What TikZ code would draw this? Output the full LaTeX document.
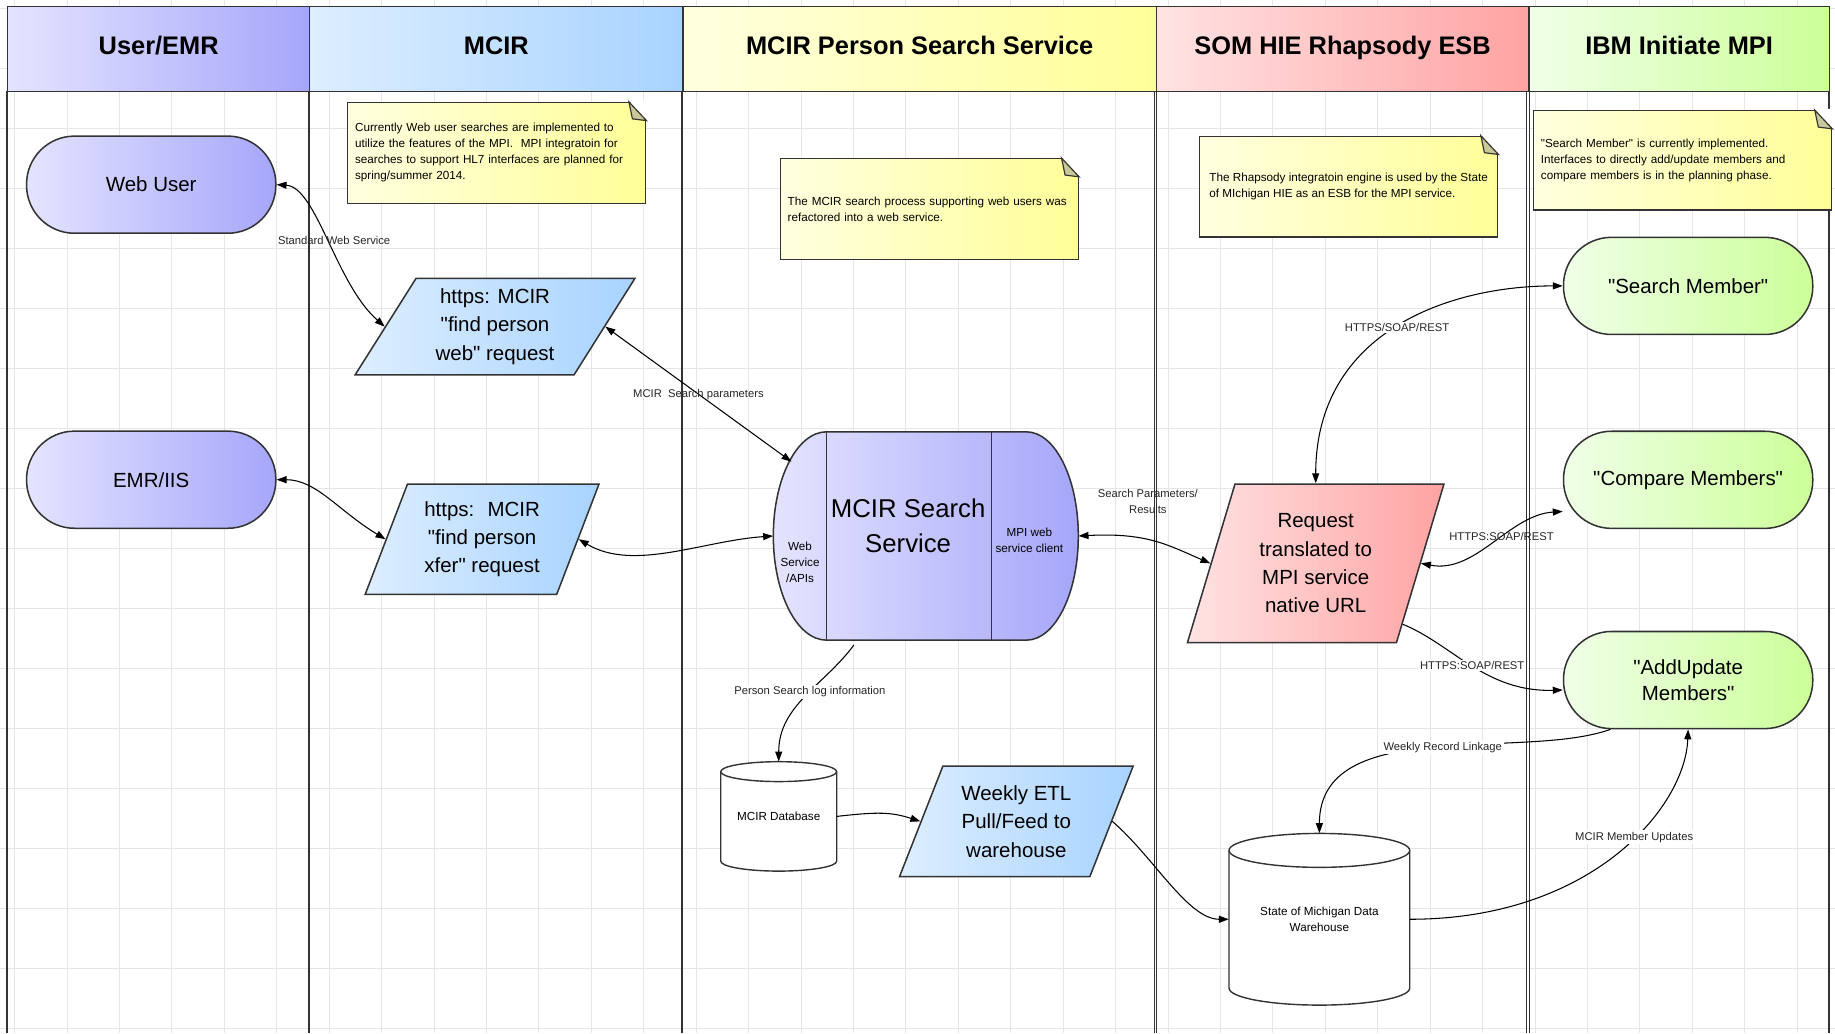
\documentclass[tikz,border=0pt]{standalone}
\usepackage{fontspec}
\setmainfont{Liberation Sans}[Ligatures=TeXOff]
\usetikzlibrary{shapes,positioning,fit,calc,arrows.meta}

\definecolor{purpleL}{HTML}{E4E4FF}
\definecolor{purpleR}{HTML}{A6A6FA}
\definecolor{blueL}{HTML}{DDEEFF}
\definecolor{blueR}{HTML}{A8D3FF}
\definecolor{yellowL}{HTML}{FFFFE0}
\definecolor{yellowR}{HTML}{FFFF99}
\definecolor{pinkL}{HTML}{FFE3E3}
\definecolor{pinkR}{HTML}{FFA3A3}
\definecolor{greenL}{HTML}{F0FFE8}
\definecolor{greenR}{HTML}{CCFF99}
\definecolor{foldcol}{HTML}{C9C89A}
\definecolor{edgecol}{HTML}{333333}
\definecolor{gridcol}{HTML}{E6E6E6}

\tikzset{
  hdr/.style={draw=edgecol, line width=1.2pt, anchor=north west, minimum height=72.7pt, inner sep=0pt,
    text height=16pt, text depth=7.4pt, font=\fontsize{21.7}{26}\selectfont\bfseries},
  pill/.style={draw=edgecol, line width=1.3pt, rounded corners=41pt, minimum width=213pt, minimum height=83pt,
    align=center, inner sep=2pt, font=\fontsize{17.5}{22}\selectfont},
  para/.style={trapezium, trapezium stretches, draw=edgecol, line width=1.3pt, align=center, inner sep=2pt,
    font=\fontsize{17.5}{24.2}\selectfont},
  memo/.style={draw=edgecol, line width=1pt, left color=yellowL, right color=yellowR, minimum width=255pt,
    minimum height=86pt, inner xsep=4pt, align=left, font=\fontsize{10}{13.6}\selectfont},
  memotext/.style={text width=242pt, inner xsep=6.5pt},
  drum/.style={inner sep=0pt, align=center, font=\fontsize{10}{13.6}\selectfont},
  subtext/.style={align=center, inner sep=1pt, font=\fontsize{10}{13.6}\selectfont},
  link/.style={draw=black, line width=0.9pt, {Triangle[length=8.5pt,width=6pt]}-{Triangle[length=8.5pt,width=6pt]}},
  flow/.style={draw=black, line width=0.9pt, -{Triangle[length=8.5pt,width=6pt]}},
  elabel/.style={font=\fontsize{9.6}{13.4}\selectfont, inner sep=1.5pt, align=center, text=black!85},
}

% cylinder outline: centre, half width, half height, ellipse radius
\newcommand\drawdrum[4]{%
  \draw[edgecol, line width=1.2pt, fill=white] ($(#1)+(-#2,#3-#4)$) -- ($(#1)+(-#2,-#3+#4)$)
    arc[start angle=180, end angle=360, x radius=#2, y radius=#4] -- ($(#1)+(#2,#3-#4)$)
    arc[start angle=0, end angle=180, x radius=#2, y radius=#4] -- cycle;
  \draw[edgecol, line width=1.2pt] ($(#1)+(-#2,#3-#4)$) arc[start angle=180, end angle=360, x radius=#2, y radius=#4];}

% folded corner of a note
\newcommand\foldcorner[1]{%
  \fill[white] ([shift={(-15,1)}]#1.north east) -- ([shift={(1.2,1)}]#1.north east) -- ([shift={(1.2,-16.5)}]#1.north east) -- cycle;
  \draw[edgecol, line width=1pt, fill=foldcol] ([xshift=-15]#1.north east) -- ([yshift=-16]#1.north east)
    -- ([shift={(-12,-14.5)}]#1.north east) -- cycle;}

\begin{document}
\begin{tikzpicture}[x=1pt,y=1pt]
  \useasboundingbox (0,0) rectangle (1568,-882.7);

  % background grid
  \foreach \gx in {0,...,34}
    \draw[gridcol, line width=0.8pt] ({12.5+44.8*\gx},0) -- ({12.5+44.8*\gx},-882.7);
  \foreach \gy in {0,...,17}
    \draw[gridcol, line width=0.8pt] (0,{-7-51.3*\gy}) -- (1568,{-7-51.3*\gy});

  % swim lanes
  \foreach \lx in {6,264,583,1562.6}
    \draw[edgecol, line width=1.6pt] (\lx,-77.8) -- (\lx,-882.7);
  \foreach \lx in {987.5,1305.8}
    \draw[edgecol, line width=0.8pt, double, double distance=1.4pt] (\lx,-77.8) -- (\lx,-882.7);

  \node[hdr, minimum width=258pt, left color=purpleL, right color=purpleR] (hUser) at (6,-5.1) {User/EMR};
  \node[hdr, minimum width=319pt, left color=blueL, right color=blueR] (hMcir) at (264,-5.1) {MCIR};
  \node[hdr, minimum width=404.5pt, left color=yellowL, right color=yellowR] (hSearch) at (583,-5.1) {MCIR Person Search Service};
  \node[hdr, minimum width=318.3pt, left color=pinkL, right color=pinkR] (hEsb) at (987.5,-5.1) {SOM HIE Rhapsody ESB};
  \node[hdr, minimum width=256.8pt, left color=greenL, right color=greenR] (hMpi) at (1305.8,-5.1) {IBM Initiate MPI};

  % notes
  \node[memo, memotext] (noteMcir) at (424.4,-130.55) {Currently Web user searches are implemented to\\
    utilize the features of the MPI.\ \ MPI integratoin for\\
    searches to support HL7 interfaces are planned for\\
    spring/summer 2014.};
  \node[memo, memotext] (noteSearch) at (794.1,-178.6) {The MCIR search process supporting web users was\\
    refactored into a web service.};
  \node[memo] (noteEsb) at (1152.4,-159.5) {The Rhapsody integratoin engine is used by the State\\
    of MIchigan HIE as an ESB for the MPI service.};
  \node[memo, memotext, minimum height=84.8pt] (noteMpi) at (1437.7,-137) {"Search Member" is currently implemented.\\
    Interfaces to directly add/update members and\\
    compare members is in the planning phase.};
  \foldcorner{noteMcir}
  \foldcorner{noteSearch}
  \foldcorner{noteEsb}
  \foldcorner{noteMpi}

  % user / EMR
  \node[pill, left color=purpleL, right color=purpleR] (web) at (129.2,-157.8) {Web User};
  \node[pill, left color=purpleL, right color=purpleR] (emr) at (129.2,-409.9) {EMR/IIS};

  % MCIR requests
  \node[para, left color=blueL, right color=blueR, trapezium left angle=59.3, trapezium right angle=120.7,
    minimum width=239.3pt, minimum height=82.6pt] (fpw) at (423,-279.1) {https: MCIR\\"find person\\web" request};
  \node[para, left color=blueL, right color=blueR, trapezium left angle=67, trapezium right angle=113,
    minimum width=200.1pt, minimum height=94.3pt] (xfr) at (411.95,-460.75) {https: \ MCIR\\"find person\\xfer" request};

  % search service
  \path[draw=edgecol, line width=1.3pt, left color=purpleL, right color=purpleR] (706.2,-369) -- (877,-369)
    arc[start angle=90, end angle=-90, x radius=44.4, y radius=89] -- (706.2,-547)
    arc[start angle=270, end angle=90, x radius=45.4, y radius=89] -- cycle;
  \draw[edgecol, line width=1.2pt] (706.4,-369) -- (706.4,-547);
  \draw[edgecol, line width=1.2pt] (847.4,-369) -- (847.4,-547);
  \node[minimum width=260.6pt, minimum height=178pt, inner sep=0pt] (svc) at (791.1,-458) {};
  \node[align=center, font=\fontsize{22}{30}\selectfont] (svcName) at (776,-449.5) {MCIR Search\\Service};
  \node[subtext] (svcApi) at (683.6,-480.7) {Web\\Service\\/APIs};
  \node[subtext] (svcClient) at (879.6,-462) {MPI web\\service client};
  \coordinate (svcIn) at ([shift={(15.7,63.5)}]svc.west);
  \coordinate (svcLog) at ([shift={(-61.5,-4)}]svc.south);

  % database and ETL
  \coordinate (dbC) at (665.4,-697.6);
  \drawdrum{dbC}{49.55}{46.75}{8.5}
  \node[drum, minimum width=99.1pt, minimum height=93.5pt] (db) at (dbC) {MCIR Database};
  \node[para, left color=blueL, right color=blueR, trapezium left angle=66.1, trapezium right angle=113.9,
    minimum width=199.9pt, minimum height=94.5pt] (etl) at (868.45,-701.85) {Weekly ETL\\Pull/Feed to\\warehouse};

  % ESB
  \node[para, left color=pinkL, right color=pinkR, trapezium left angle=71.6, trapezium right angle=108.4,
    minimum width=219.3pt, minimum height=135.6pt] (req) at (1124.25,-481.4) {Request\\translated to\\MPI service\\native URL};
  \coordinate (dwC) at (1127.4,-785.5);
  \drawdrum{dwC}{77.2}{73.35}{14.5}
  \node[drum, minimum width=154.4pt, minimum height=146.7pt] (dw) at (dwC) {State of Michigan Data\\Warehouse};

  % MPI
  \node[pill, left color=greenL, right color=greenR] (sm) at (1442.5,-244.3) {"Search Member"};
  \node[pill, left color=greenL, right color=greenR] (cm) at (1442.5,-410) {"Compare Members"};
  \node[pill, left color=greenL, right color=greenR] (au) at (1442.5,-581.1) {"AddUpdate\\Members"};

  % connectors
  \draw[link] (web.east) .. controls +(34,-2) and +(-42,37) .. (fpw.left side)
    node[elabel, pos=0.5, xshift=6] {Standard Web Service};
  \draw[link] (fpw.right side) -- (svcIn) node[elabel, pos=0.5] {MCIR \ Search parameters};
  \draw[link] (emr.east) .. controls +(34,0) and +(-40,24) .. (xfr.left side);
  \draw[link] (xfr.right side) .. controls +(47,-28) and +(-60,-4) .. (svc.west);
  \draw[link] (svc.east) .. controls +(58,3) and +(-37,16) .. (req.left side)
    node[elabel, pos=0.45, yshift=33] {Search Parameters/\\Results};
  \draw[link] (req.north) .. controls +(0,130) and +(-96,0) .. (sm.west)
    node[elabel, fill=white, pos=0.5] {HTTPS/SOAP/REST};
  \draw[link] (req.right side) .. controls +(47,-9) and +(-46,-3) .. ([yshift=-27]cm.west)
    node[elabel, pos=0.57] {HTTPS:SOAP/REST};
  \draw[flow] ($(req.bottom right corner)!0.12!(req.top right corner)$) .. controls +(42,-17) and +(-66,-2) .. ([yshift=-8.5]au.west)
    node[elabel, fill=white, pos=0.5] {HTTPS:SOAP/REST};
  \draw[flow] (svcLog) .. controls +(-25,-34) and +(0,48) .. (db.north)
    node[elabel, fill=white, pos=0.45] {Person Search log information};
  \draw[flow] (db.east) .. controls +(35,4) and +(-25,8) .. (etl.left side);
  \draw[flow] (etl.right side) .. controls +(35,-30) and +(-35,0) .. (dw.west);
  \draw[flow] ([xshift=-66.4]au.south) .. controls +(-76,-27) and +(0,102) .. (dw.north)
    node[elabel, fill=white, pos=0.47] {Weekly Record Linkage};
  \draw[flow] (dw.east) .. controls +(155,0) and +(-2.5,-67) .. (au.south)
    node[elabel, fill=white, pos=0.57] {MCIR Member Updates};
\end{tikzpicture}
\end{document}
